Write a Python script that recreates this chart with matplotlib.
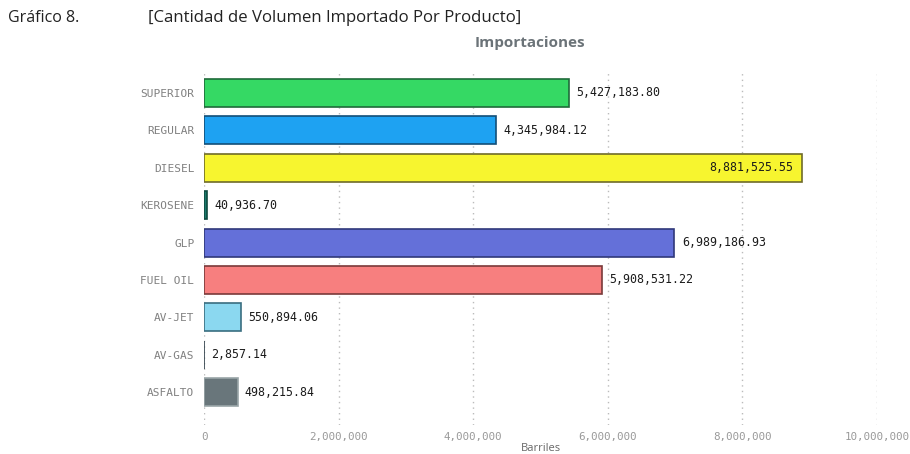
import matplotlib
matplotlib.use("Agg")
import matplotlib.pyplot as plt
from matplotlib.ticker import FuncFormatter

categories = ["SUPERIOR", "REGULAR", "DIESEL", "KEROSENE", "GLP", "FUEL OIL", "AV-JET", "AV-GAS", "ASFALTO"]
values = [5427183.80, 4345984.12, 8881525.55, 40936.70, 6989186.93, 5908531.22, 550894.06, 2857.14, 498215.84]
colors = ["#35d964", "#1ea2f2", "#f7f52f", "#1a7a6c", "#6470d9", "#f77f7f", "#8bd8f0", "#50616a", "#69767b"]
edges = ["#1f6b3a", "#134f78", "#6f6b2a", "#0f4a40", "#30387a", "#7a3a3a", "#3a6e80", "#30404a", "#9aa5a8"]
xticks = [0, 2000000, 4000000, 6000000, 8000000, 10000000]

fig = plt.figure(figsize=(9.1, 4.54), dpi=100)
ax = fig.add_axes([204/910, 1-425/454, (877-204)/910, (425-70)/454])

y = list(range(len(categories)))
ax.barh(y, values, height=0.75, color=colors, edgecolor=edges, linewidth=1.2, zorder=3)
ax.set_xlim(0, 10000000)
ax.set_ylim(len(categories) - 1 + 0.88, -0.615)
ax.set_yticks(y)
ax.set_yticklabels(categories, family="DejaVu Sans Mono", fontsize=8, color="#808080")
ax.set_xticks(xticks)
ax.xaxis.set_major_formatter(FuncFormatter(lambda v, p: f"{int(v):,}"))
for lab in ax.get_xticklabels():
    lab.set_family("DejaVu Sans Mono")
    lab.set_fontsize(7.8)
    lab.set_color("#999999")
ax.tick_params(axis="both", length=0, pad=7)
ax.tick_params(axis="x", pad=5)
for s in ax.spines.values():
    s.set_visible(False)
ax.grid(axis="x", linestyle=(0, (1, 3)), color="#bbbbbb", linewidth=1, zorder=0)
ax.grid(axis="y", visible=False)

for yi, v in zip(y, values):
    txt = f"{v:,.2f}"
    if v > 8000000:
        ax.text(v - 120000, yi, txt, va="center", ha="right", family="DejaVu Sans Mono",
                fontsize=8.4, color="#1a1a1a", zorder=4)
    else:
        ax.text(v + 110000, yi, txt, va="center", ha="left", family="DejaVu Sans Mono",
                fontsize=8.4, color="#1a1a1a", zorder=4)

ax.set_xlabel("Barriles", family="Open Sans", fontsize=8, color="#666666", labelpad=1)

fig.text(8/910, 1-18/454, "Gráfico 8.", family="Open Sans", fontsize=11.5, color="#222222", va="center", ha="left")
fig.text(148/910, 1-18/454, "[Cantidad de Volumen Importado Por Producto]", family="Open Sans", fontsize=12.1,
         color="#222222", va="center", ha="left")
fig.text(530/910, 1-43/454, "Importaciones", family="Open Sans", fontsize=11, fontweight="bold",
         color="#6b7378", va="center", ha="center")

fig.savefig("out.png", dpi=100)
